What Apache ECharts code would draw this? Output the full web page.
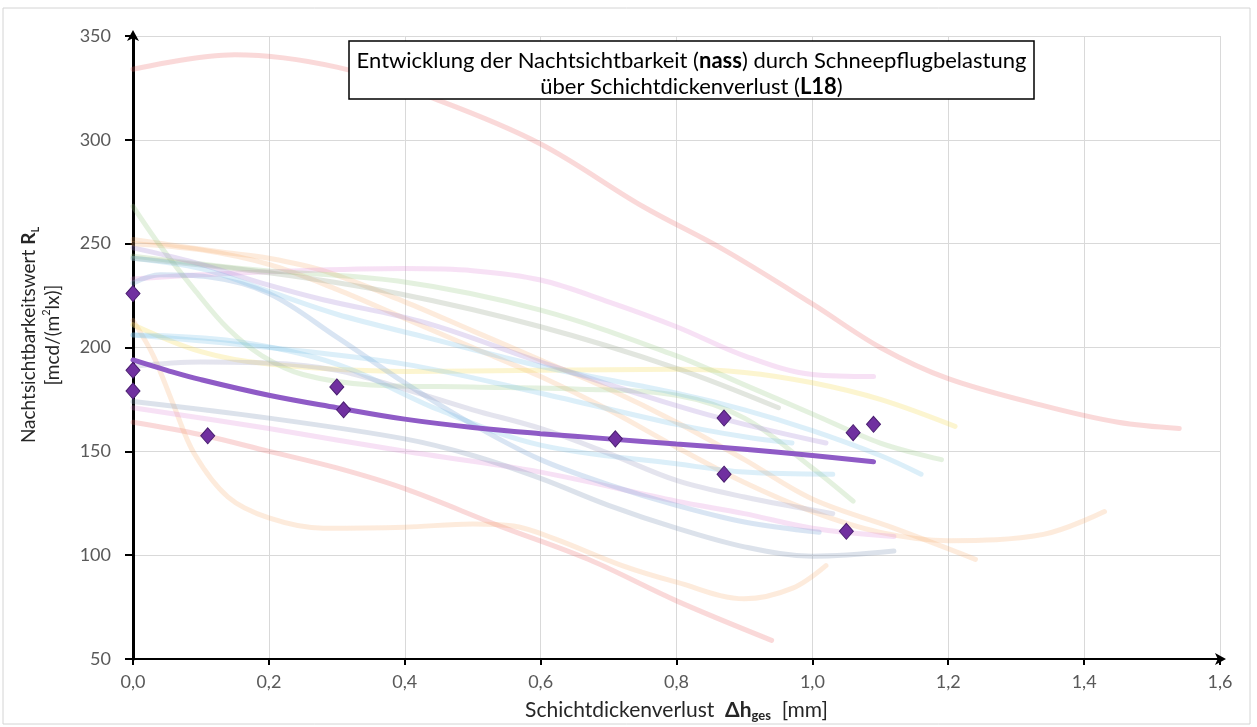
<!DOCTYPE html>
<html><head><meta charset="utf-8">
<script src="https://cdn.jsdelivr.net/npm/echarts@6/dist/echarts.min.js"></script>
<style>html,body{margin:0;padding:0;background:#fff}#c{width:1257px;height:727px}</style>
</head><body><div id="c"></div>
<script>
// ---- tick labels ----
const xTickLabels = ['0,0','0,2','0,4','0,6','0,8','1,0','1,2','1,4','1,6'];

// ---- measured points (purple diamonds) ----
const measX = [0, 0, 0, 0.11, 0.30, 0.31, 0.71, 0.87, 0.87, 1.05, 1.06, 1.09];
const measY = [226, 189, 179, 157.5, 181, 170, 156, 166, 139, 111.5, 159, 163];

// ---- trend line (thick purple) ----
const trendLine = [[0,194],[0.05,189],[0.1,184.5],[0.2,177],[0.3,171],[0.4,165.5],[0.5,161.5],[0.6,158.5],[0.7,156],[0.8,153.5],[0.9,151],[1.0,148],[1.09,145]];

// ---- faint background curves ----
const redTop = [[0,334],[0.15,341],[0.3,335],[0.45,319],[0.6,298],[0.75,268],[0.87,247],[1.0,221],[1.1,200],[1.2,185],[1.34,172],[1.45,164],[1.54,161]];
const redLow = [[0,164],[0.1,158],[0.2,150],[0.3,142],[0.4,132],[0.54,114],[0.67,98],[0.8,78],[0.94,59]];
const orangeSteep = [[0,213],[0.03,196],[0.06,172],[0.09,149],[0.14,128],[0.2,118],[0.28,113],[0.4,113.5],[0.5,115],[0.56,114],[0.62,108],[0.72,95],[0.8,87],[0.9,79],[0.97,84],[1.02,95]];
const orangeA = [[0,252],[0.13,246],[0.2,243],[0.28,237],[0.4,222],[0.5,208],[0.6,194],[0.7,180],[0.8,164],[0.9,146],[1.0,127],[1.12,113],[1.24,98]];
const orangeB = [[0,250],[0.1,247],[0.2,240],[0.3,228],[0.4,214],[0.5,200],[0.6,186],[0.7,170],[0.8,152],[0.9,135],[1.0,121],[1.1,111],[1.2,107],[1.34,110],[1.43,121]];
const pinkHump = [[0,233],[0.1,235],[0.2,236.5],[0.4,238],[0.5,237],[0.6,232.5],[0.7,222],[0.8,210],[0.9,196],[1.0,187],[1.09,186]];
const pinkLow = [[0,171],[0.2,161],[0.4,150],[0.6,140],[0.8,126],[0.9,120],[1.0,113],[1.12,109]];
const yellowLine = [[0,211],[0.1,198],[0.2,192],[0.4,188.5],[0.6,189],[0.8,189.5],[0.9,188],[1.0,183],[1.1,175],[1.21,162]];
const greenSteep = [[0,268],[0.04,249],[0.09,228],[0.14,209],[0.19,196],[0.25,187],[0.35,182],[0.5,181],[0.65,180],[0.8,177],[0.9,166],[1.0,142],[1.06,126]];
const greenA = [[0,244],[0.18,237.5],[0.39,232],[0.6,218],[0.8,196],[0.9,182],[1.0,168],[1.1,154],[1.19,146]];
const grayGreen = [[0,243],[0.2,236],[0.39,226],[0.6,210],[0.8,190],[0.95,171]];
const lavenderA = [[0,248],[0.09,241],[0.2,230],[0.28,223],[0.43,212],[0.6,193],[0.8,172],[0.9,163],[1.02,154]];
const blueSteep = [[0,231],[0.04,235],[0.11,234],[0.2,226],[0.3,205],[0.4,183],[0.5,163],[0.6,146],[0.7,134],[0.8,124],[0.9,116],[1.01,111]];
const tealA = [[0,243],[0.1,238],[0.2,227],[0.3,216],[0.43,205],[0.6,191],[0.8,178],[0.9,170],[1.0,160],[1.1,148],[1.16,139]];
const cyanB = [[0,206],[0.15,203],[0.3,192],[0.45,170],[0.6,153],[0.8,144],[0.9,140],[1.03,139]];
const lightBlueC = [[0,206],[0.2,200],[0.4,192],[0.6,178],[0.8,163],[0.9,157],[0.97,154]];
const grayLav = [[0,191],[0.1,193],[0.2,192.5],[0.3,189],[0.4,180],[0.5,170],[0.6,161],[0.7,149],[0.8,136],[0.9,128],[1.03,120]];
const grayBlue = [[0,174],[0.2,166],[0.4,156],[0.5,148],[0.6,137],[0.7,124],[0.8,113],[0.9,104],[1.0,99.5],[1.12,102]];

const FONT = 'Lato';
const faint = [
  [redTop, 'rgba(235,110,110,0.26)'],
  [redLow, 'rgba(235,110,110,0.26)'],
  [orangeSteep, 'rgba(245,170,110,0.24)'],
  [orangeA, 'rgba(245,170,110,0.24)'],
  [orangeB, 'rgba(245,170,110,0.24)'],
  [pinkHump, 'rgba(225,140,215,0.26)'],
  [pinkLow, 'rgba(225,140,215,0.26)'],
  [yellowLine, 'rgba(245,225,110,0.32)'],
  [greenSteep, 'rgba(150,200,130,0.26)'],
  [greenA, 'rgba(150,200,130,0.26)'],
  [grayGreen, 'rgba(150,165,140,0.28)'],
  [lavenderA, 'rgba(170,140,215,0.28)'],
  [blueSteep, 'rgba(130,170,215,0.3)'],
  [tealA, 'rgba(120,195,230,0.26)'],
  [cyanB, 'rgba(120,195,230,0.26)'],
  [lightBlueC, 'rgba(120,195,230,0.26)'],
  [grayLav, 'rgba(165,165,200,0.3)'],
  [grayBlue, 'rgba(140,160,190,0.3)']
];

const series = faint.map(([d, c]) => ({
  type: 'line', data: d, smooth: 0.35, symbol: 'none', silent: true, z: 2,
  lineStyle: { color: c, width: 5, cap: 'round', join: 'round' }
}));
series.push({
  type: 'line', data: trendLine, smooth: 0.4, symbol: 'none', silent: true, z: 3,
  lineStyle: { color: '#8f5bc6', width: 5, cap: 'round' }
});
series.push({
  type: 'scatter', data: measX.map((x, i) => [x, measY[i]]), z: 4,
  symbol: 'diamond', symbolSize: [14, 16],
  itemStyle: { color: '#7030a0', borderColor: '#4a1f70', borderWidth: 1, opacity: 1 }
});

const chart = echarts.init(document.getElementById('c'), null, { renderer: 'canvas' });
chart.setOption({
  animation: false,
  backgroundColor: '#fff',
  grid: { left: 133, right: 37, top: 36, bottom: 66, containLabel: false },
  xAxis: {
    type: 'value', min: 0, max: 1.6, interval: 0.2,
    name: '{n|Schichtdickenverlust  }{b|Δh}{s|ges}{n|  [mm]}',
    nameLocation: 'middle', nameGap: 39,
    nameTextStyle: {
      rich: {
        n: { fontFamily: FONT, fontSize: 21, color: '#262626' },
        b: { fontFamily: FONT, fontSize: 21, color: '#262626', fontWeight: 'bold' },
        s: { fontFamily: FONT, fontSize: 13, color: '#262626', fontWeight: 'bold', verticalAlign: 'bottom', padding: [11, 0, 0, 0] }
      }
    },
    axisLine: { show: true, onZero: false, lineStyle: { color: '#000', width: 2 }, symbol: ['none', 'arrow'], symbolSize: [9, 11], symbolOffset: [0, 6] },
    axisTick: { show: true, length: 6, lineStyle: { color: '#000', width: 2 } },
    axisLabel: { formatter: v => xTickLabels[Math.round(v / 0.2)], color: '#595959', fontSize: 18, fontFamily: FONT, margin: 14 },
    splitLine: { show: true, lineStyle: { color: '#d9d9d9', width: 1 } }
  },
  yAxis: {
    type: 'value', min: 50, max: 350, interval: 50,
    name: '{n|Nachtsichtbarkeitswert }{b|R}{s|L}\n{n|[mcd/(m}{sup|2}{n|lx)]}',
    nameLocation: 'middle', nameGap: 68, nameRotate: 90,
    nameTextStyle: {
      lineHeight: 24,
      padding: [0, 0, 0, 25],
      rich: {
        n: { fontFamily: FONT, fontSize: 19, color: '#262626', lineHeight: 24 },
        b: { fontFamily: FONT, fontSize: 19, color: '#262626', fontWeight: 'bold', lineHeight: 24 },
        s: { fontFamily: FONT, fontSize: 11, color: '#262626', fontWeight: 'bold', verticalAlign: 'bottom', lineHeight: 24 },
        sup: { fontFamily: FONT, fontSize: 11, color: '#262626', verticalAlign: 'top', lineHeight: 24 }
      }
    },
    axisLine: { show: true, onZero: false, lineStyle: { color: '#000', width: 3 }, symbol: ['none', 'arrow'], symbolSize: [9, 11], symbolOffset: [0, 6] },
    axisTick: { show: true, length: 8, lineStyle: { color: '#000', width: 2 } },
    axisLabel: { color: '#595959', fontSize: 18, fontFamily: FONT, margin: 22 },
    splitLine: { show: true, lineStyle: { color: '#d9d9d9', width: 1 } }
  },
  graphic: [
    { type: 'rect', silent: true, z: 0, shape: { x: 3, y: 8, width: 1247, height: 716 }, style: { fill: null, stroke: '#d4d4d4', lineWidth: 1 } },
    { type: 'rect', silent: true, z: 50, shape: { x: 349, y: 41, width: 685, height: 58 }, style: { fill: '#fff', stroke: '#000', lineWidth: 1.5 } },
    { type: 'text', silent: true, z: 51, x: 691.5, y: 74,
      style: {
        text: '{n|Entwicklung der Nachtsichtbarkeit (}{b|nass}{n|) durch Schneepflugbelastung}\n{n|über Schichtdickenverlust (}{b|L18}{n|)}',
        align: 'center', verticalAlign: 'middle',
        rich: {
          n: { fontFamily: FONT, fontSize: 22, fill: '#000', lineHeight: 26 },
          b: { fontFamily: FONT, fontSize: 22, fill: '#000', fontWeight: 'bold', lineHeight: 26 }
        }
      }
    }
  ],
  series: series
});
</script>
</body></html>
